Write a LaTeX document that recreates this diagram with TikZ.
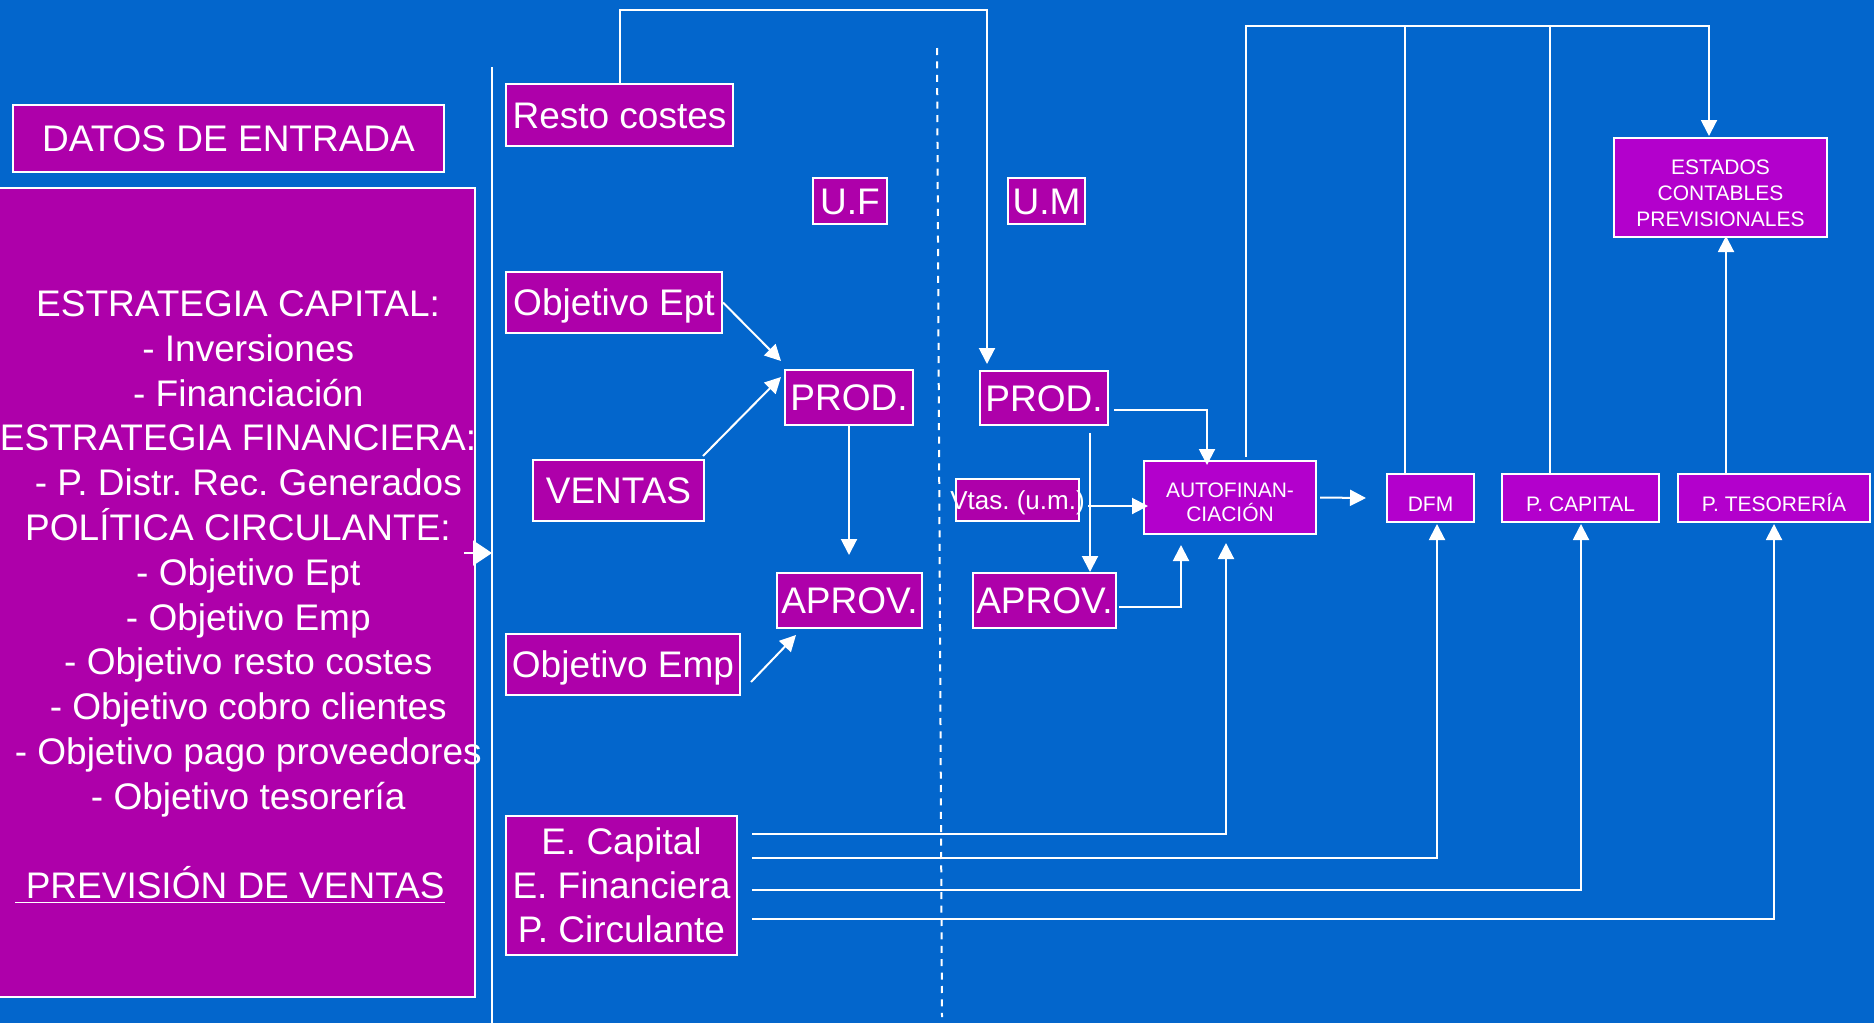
\documentclass[tikz,border=0pt]{standalone}
\usepackage{fontspec}
\setmainfont{Liberation Sans}
\usetikzlibrary{calc,arrows.meta}
\definecolor{bgblue}{RGB}{3,102,204}
\definecolor{magA}{RGB}{174,0,170}
\definecolor{magB}{RGB}{179,0,204}
\frenchspacing
\begin{document}
\begin{tikzpicture}[x=0.5pt,y=-0.5pt,
  box/.style={draw=white, line width=1pt, fill=magA, text=white, inner sep=0pt,
    font=\fontsize{18.5pt}{22pt}\selectfont, text height=13.25pt, text depth=0pt},
  sbox/.style={box, fill=magB, font=\fontsize{10.5pt}{12.5pt}\selectfont, text height=13.5pt},
  wire/.style={white, line width=1pt},
  arr/.style={wire, -{Triangle[length=8pt,width=8pt]}},
  bigarr/.style={wire, -{Triangle[length=9.5pt,width=12.5pt]}},
  multi/.style={text height={}, text depth={}, align=center}
]
\fill[bgblue] (0,0) rectangle (1874,1023);
\useasboundingbox (0,0) rectangle (1874,1023);

% left column
\node[box, minimum width=215.5pt, minimum height=33.5pt] (datos) at (228.5,138.5) {DATOS DE ENTRADA};
\node[box, minimum width=238.5pt, minimum height=404.5pt] (left) at (236.5,592) {};
\newcommand\dl{\hspace*{0.556em}}
\node[text=white, align=center, inner sep=0pt, font=\fontsize{18.5pt}{22.4pt}\selectfont] (lefttext) at (238,597) {%
ESTRATEGIA CAPITAL:\\
\dl- Inversiones\\
\dl- Financiación\\
ESTRATEGIA FINANCIERA:\\
\dl- P. Distr. Rec. Generados\\
POLÍTICA CIRCULANTE:\\
\dl- Objetivo Ept\\
\dl- Objetivo Emp\\
\dl- Objetivo resto costes\\
\dl- Objetivo cobro clientes\\
\dl- Objetivo pago proveedores\\
\dl- Objetivo tesorería\\[22.4pt]
\underline{\ PREVISIÓN DE VENTAS}\hspace*{8pt}};

% U.F column
\node[box, minimum width=113.5pt, minimum height=31pt] (resto) at (619.5,115) {Resto costes};
\node[box, minimum width=37pt, minimum height=23pt] (uf) at (850,201) {U.F};
\node[box, minimum width=108pt, minimum height=30.5pt] (ept) at (614,302.5) {Objetivo Ept};
\node[box, minimum width=64pt, minimum height=27.5pt] (produf) at (849,397.5) {PROD.};
\node[box, minimum width=85.5pt, minimum height=30.5pt] (ventas) at (618.5,490.5) {VENTAS};
\node[box, minimum width=72.5pt, minimum height=27.5pt] (aprovuf) at (849.5,600.5) {APROV.};
\node[box, minimum width=117pt, minimum height=30.5pt] (emp) at (623,664.5) {Objetivo Emp};
\node[box, multi, minimum width=115.5pt, minimum height=69.5pt] (ecap) at (621.5,885.5) {E. Capital\\E. Financiera\\P. Circulante};

% U.M column
\node[box, minimum width=38.5pt, minimum height=23pt] (um) at (1046.5,201) {U.M};
\node[box, minimum width=64pt, minimum height=27pt] (produm) at (1044,398) {PROD.};
\node[box, minimum width=61.5pt, minimum height=21pt, font=\fontsize{13pt}{15pt}\selectfont, text height=9.3pt] (vtas) at (1017.5,500) {\makebox[0pt]{Vtas. (u.m.)}};
\node[box, minimum width=71.5pt, minimum height=27.5pt] (aprovum) at (1044.5,600.5) {APROV.};
\node[sbox, multi, minimum width=86pt, minimum height=36.5pt, font=\fontsize{10.5pt}{12pt}\selectfont] (autofin) at (1230,497.5) {\rule{0pt}{12.5pt}AUTOFINAN-\\CIACIÓN};
\node[sbox, minimum width=43.5pt, minimum height=24pt] (dfm) at (1430.5,498) {DFM};
\node[sbox, minimum width=78.5pt, minimum height=24pt] (pcap) at (1580.5,498) {P. CAPITAL};
\node[sbox, minimum width=96pt, minimum height=24pt] (ptes) at (1774,498) {P. TESORERÍA};
\node[sbox, multi, minimum width=106.5pt, minimum height=49.5pt, font=\fontsize{10.5pt}{13pt}\selectfont] (estados) at (1720.5,187.5) {\rule{0pt}{13.5pt}ESTADOS\\CONTABLES\\PREVISIONALES};

% dividers
\coordinate (vtop) at (492,67);
\coordinate (vbot) at (492,1023);
\draw[wire] (vtop) -- (vbot);
\coordinate (dtop) at (937,48);
\coordinate (dbot) at (942,1017);
\draw[wire, dash pattern=on 3.5pt off 3.2pt] (dtop) -- (dbot);

% left arrow
\coordinate (la) at ($(left.east)+(-12,-39)$);
\draw[bigarr] (la) -- (la -| vtop);

% U.F connectors
\draw[arr] (ept.east) -- ($(produf.north west)+(-3,-8)$);
\draw[arr] ($(ventas.north east)+(-2,-3)$) -- ($(produf.north west)+(-3,8)$);
\coordinate (auf1) at ($(aprovuf.north)+(0,-17)$);
\draw[arr] (produf.south) -- (produf.south |- auf1);
\draw[arr] ($(emp.east)+(10,17.5)$) -- ($(aprovuf.south west)+(20,6)$);

% resto costes -> PROD (U.M)
\coordinate (topA) at (0,10);
\coordinate (pum1) at ($(produm.north west)+(8,-6)$);
\draw[arr] (resto.north) -- (resto.north |- topA) -| (pum1);

% U.M connectors
\draw[arr] ($(produm.east)+(5,12)$) -| ($(autofin.north west)+(64,5)$);
\coordinate (pm1) at ($(produm.south east)+(-19,7)$);
\draw[arr] (pm1) -- (pm1 |- aprovum.north);
\coordinate (vt1) at ($(vtas.east)+(8,6)$);
\draw[arr] (vt1) -- ($(vt1 -| autofin.west)+(5,0)$);
\draw[arr] ($(aprovum.east)+(2,6.5)$) -| ($(autofin.south west)+(38,10)$);
\draw[arr] ($(autofin.east)+(3,0)$) -- ($(dfm.west)+(-20,0)$);

% E. Capital lines
\draw[arr] ($(ecap.east)+(14,-51.5)$) -| ($(autofin.south west)+(83,8)$);
\draw[arr] ($(ecap.east)+(14,-27.5)$) -| ($(dfm.south west)+(51,1)$);
\draw[arr] ($(ecap.east)+(14,4.5)$) -| ($(pcap.south west)+(80,1)$);
\draw[arr] ($(ecap.east)+(14,33.5)$) -| ($(ptes.south)+(0,1)$);

% top line to estados
\coordinate (topB) at (0,26);
\coordinate (af1) at ($(autofin.north)+(16,-3)$);
\draw[arr] (af1) -- (af1 |- topB) -| ($(estados.north west)+(96,-1)$);
\coordinate (df1) at ($(dfm.north west)+(19,0)$);
\draw[wire] (df1) -- (df1 |- topB);
\coordinate (pc1) at ($(pcap.north west)+(49,0)$);
\draw[wire] (pc1) -- (pc1 |- topB);
\coordinate (pt1) at ($(ptes.north west)+(49,0)$);
\draw[arr] (pt1) -- ($(pt1 |- estados.south)+(0,-2)$);
\end{tikzpicture}
\end{document}
